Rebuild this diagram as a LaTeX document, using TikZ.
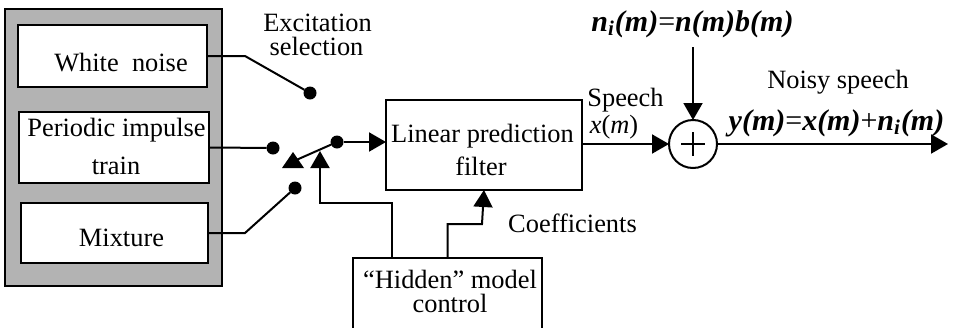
\documentclass[tikz,border=0pt]{standalone}
\usepackage{fontspec}
\setmainfont{Liberation Serif}
\usetikzlibrary{arrows.meta}
\definecolor{panelgray}{HTML}{B3B3B3}
\begin{document}
\begin{tikzpicture}[x=0.5pt,y=-0.5pt,
  line width=1pt,
  >={Triangle[length=8.5pt,width=9.5pt]},
  box/.style={draw,rectangle,inner sep=0pt,outer sep=0pt},
  lbl/.style={anchor=base,inner sep=0pt,font=\fontsize{13.2}{15}\selectfont},
  eqn/.style={anchor=base,inner sep=0pt,font=\fontsize{15}{17}\selectfont\bfseries\itshape},
  dot/.style={circle,fill,inner sep=0pt,outer sep=0pt,minimum size=6.5pt},
  reg/.style={font=\mdseries\upshape},
]
\clip (0,0) rectangle (957,327);

% excitation sources
\node[box,fill=panelgray,line width=1.3pt,minimum width=108.5pt,minimum height=138.5pt] (panel) at (113.5,147.5) {};
\node[box,fill=white,minimum width=94.5pt,minimum height=31pt] (wn) at (112.5,56) {};
\node[box,fill=white,minimum width=95pt,minimum height=35.5pt] (pit) at (114,147.5) {};
\node[box,fill=white,minimum width=93.5pt,minimum height=30pt] (mix) at (114.5,233) {};
\node[lbl] (wnt) at (121,71) {White\ \ noise};
\node[lbl] (pitt1) at (116.5,136) {Periodic impulse};
\node[lbl] (pitt2) at (116,174) {train};
\node[lbl] (mixt) at (121.5,246) {Mixture};

% selector switch
\node[lbl] (exc1) at (317.5,31) {Excitation};
\node[lbl] (exc2) at (316.5,55) {selection};
\node[dot] (d1) at (310,93) {};
\node[dot] (d2) at (273,148) {};
\node[dot] (d3) at (295,188) {};
\node[dot] (d4) at (337,142) {};
\coordinate (lever) at (294,161);
\draw (wn.east) -- ++(38,0) -- (d1);
\draw (pit.east) -- (d2);
\draw (mix.east) -- ++(37,0) -- (d3);
\draw (d4) -- (lever);
\fill (282,168) -- (293,152) -- (304,168) -- cycle;

% filter and model control
\node[box,minimum width=98pt,minimum height=45pt] (lpf) at (484,145) {};
\node[lbl] (lpft1) at (482.5,142) {Linear prediction};
\node[lbl] (lpft2) at (481,175) {filter};
\node[box,minimum width=94.5pt,minimum height=41pt] (hid) at (447.5,299) {};
\node[lbl] (hidt1) at (450,288) {“Hidden” model};
\node[lbl] (hidt2) at (450,312) {control};
\node[lbl] (coef) at (572.5,232) {Coefficients};

\draw[->] (d4) -- (d4 -| lpf.west);
\draw[->] (hid.north west) ++(39,0) |- (320,203) -- (320,151);
\draw[->] (hid.north) |- (482,224) -- (482,190 -| lpf.south);

% noise addition
\node[circle,draw,inner sep=0pt,outer sep=0pt,minimum size=24pt] (sum) at (693,144) {};
\draw (sum.center) ++(-12,0) -- ++(24,0);
\draw (sum.center) ++(0,-12) -- ++(0,24);
\coordinate (nin) at (693,47);
\coordinate (out) at (948,144);
\draw[->] (lpf.east |- sum.west) -- (sum.west);
\draw[->] (nin) -- (sum.north);
\draw[->] (sum.east) -- (out);

\node[lbl] (sp) at (625.5,106) {Speech};
\node[lbl] (xm) at (614,133) {\textit{x}(\textit{m})};
\node[eqn] (neq) at (692.5,31) {n\textsubscript{i}(m){\mdseries\upshape =}n(m)b(m)};
\node[lbl] (ns) at (838,88) {Noisy speech};
\node[eqn] (yeq) at (836.5,130) {y(m){\mdseries\upshape =}x(m){\mdseries\upshape +}n\textsubscript{i}(m)};
\end{tikzpicture}
\end{document}
